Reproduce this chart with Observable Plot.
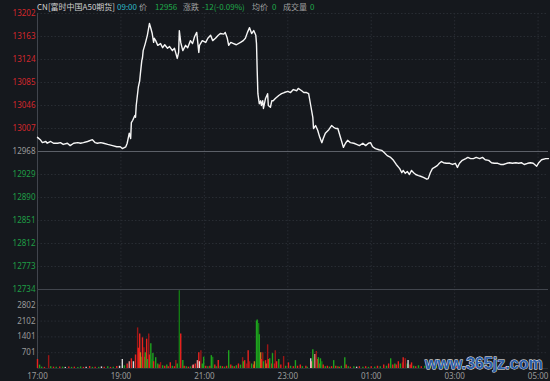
<!DOCTYPE html>
<html><head><meta charset="utf-8">
<script src="https://cdn.jsdelivr.net/npm/d3@7"></script>
<script src="https://cdn.jsdelivr.net/npm/@observablehq/plot@0.6"></script>
<style>
html,body{margin:0;padding:0;background:#15181d;}
#wrap{position:relative;width:550px;height:381px;overflow:hidden;background:#15181d;font-family:"Noto Sans CJK SC","Noto Sans",sans-serif;}
#wrap svg{position:absolute;left:0;overflow:visible;}
.hd{position:absolute;top:2px;font-size:8px;line-height:10px;white-space:nowrap;}
#wm{position:absolute;left:425px;top:355px;font:bold 16px "Liberation Sans",Arial,sans-serif;color:#2d5fa8;-webkit-text-stroke:0.8px #ffffff;paint-order:stroke fill;letter-spacing:0px;white-space:nowrap;}
</style></head><body><div id="wrap"></div>
<script>
// ---- header ----
const headerItems = [
  ["CN[富时中国A50期货]", 37, "#d0d0d0"],
  ["09:00", 117, "#2fb8c8"],
  ["价", 139, "#a0a0a0"],
  ["12956", 155, "#1fa84a"],
  ["涨跌", 183, "#a0a0a0"],
  ["-12(-0.09%)", 202, "#1fa84a"],
  ["均价", 252, "#a0a0a0"],
  ["0", 272, "#1fa84a"],
  ["成交量", 283, "#a0a0a0"],
  ["0", 310, "#1fa84a"]
];

// ---- axes ----
const prevClose = 12968;
const priceTicks = [13202,13163,13124,13085,13046,13007,12968,12929,12890,12851,12812,12773,12734];
const volTicks = [701,1401,2102,2802];
const volMax = 3503;
const timeLabels = ["17:00","19:00","21:00","23:00","01:00","03:00","05:00"];
const sessionMinutes = 735; // 17:00 -> 05:15

// ---- price line (minutes after 17:00, price) ----
const priceMin = [0,4,7,12,14,19,23,29,33,37,43,47,52,58,62,66,72,79,83,86,91,95,101,108,114,119,122,127,129,132,134,135,137,140,141,142,145,147,148,150,151,152,155,158,161,163,165,167,168,170,173,177,180,183,187,190,194,197,201,203,204,206,209,213,216,220,223,226,229,232,233,237,242,245,249,252,256,260,263,268,270,273,275,278,282,286,292,296,299,302,305,308,311,314,315,316,317,319,321,322,324,325,328,331,332,335,337,339,342,347,351,355,360,364,368,373,375,380,383,387,390,393,396,397,400,403,406,409,411,414,419,423,426,429,432,434,437,440,443,446,450,455,459,463,468,472,476,479,482,486,491,495,499,503,508,512,516,521,524,526,529,532,535,538,541,544,548,551,555,560,562,565,568,571,575,578,581,584,588,593,597,601,604,607,611,616,619,623,627,631,636,640,644,649,653,657,662,666,670,675,679,683,688,692,696,700,705,709,713,718,721,725,731,735];
const priceVal = [12992,12988,12983,12985,12982,12985,12982,12982,12983,12980,12982,12978,12982,12983,12982,12983,12985,12988,12983,12982,12983,12982,12980,12978,12976,12976,12973,12976,12982,12999,12990,13017,13021,13029,13026,13046,13077,13088,13100,13122,13127,13139,13151,13165,13185,13177,13168,13153,13160,13156,13148,13151,13144,13149,13143,13146,13139,13143,13126,13136,13173,13153,13139,13148,13144,13156,13151,13163,13170,13136,13148,13156,13153,13160,13165,13156,13160,13165,13168,13167,13170,13160,13148,13153,13151,13149,13153,13156,13160,13170,13178,13168,13173,13165,13151,13105,13066,13049,13054,13046,13054,13041,13058,13066,13046,13043,13054,13054,13058,13063,13066,13068,13070,13068,13073,13071,13075,13071,13068,13068,13066,13046,13026,13007,13012,13004,12992,12983,12990,12999,13005,13012,13009,13007,13007,12999,12987,12975,12982,12987,12983,12982,12980,12978,12982,12978,12982,12983,12976,12973,12971,12970,12966,12961,12958,12953,12946,12939,12932,12936,12931,12934,12929,12936,12932,12929,12927,12926,12924,12921,12922,12932,12939,12941,12944,12948,12951,12949,12948,12948,12946,12948,12941,12948,12953,12956,12958,12956,12956,12958,12956,12958,12954,12953,12949,12948,12948,12946,12946,12948,12949,12948,12949,12948,12949,12946,12948,12949,12948,12943,12949,12954,12956,12956];

// ---- volume bars (minutes after 17:00, volume, colour kind) ----
const volMin = [0,3,6,10,16,19,23,27,32,36,40,45,49,53,58,62,66,70,75,79,83,88,92,96,101,105,109,114,118,122,125,129,132,135,138,141,144,145,147,148,150,151,153,154,155,157,158,160,161,163,164,166,167,170,173,175,177,180,183,186,188,191,194,197,199,201,204,206,209,211,214,217,220,223,224,227,230,232,233,235,237,239,242,245,248,250,252,255,257,260,263,266,269,272,275,278,280,283,286,289,292,295,296,298,301,303,305,308,311,312,315,316,318,319,321,322,324,325,328,329,331,332,334,337,338,341,342,344,347,350,354,357,361,364,368,371,374,378,381,386,388,393,394,396,397,399,401,403,404,406,407,409,411,414,417,420,423,426,429,432,434,437,442,444,447,450,455,459,463,468,472,476,480,485,489,493,498,502,505,508,511,514,516,519,522,525,526,529,532,533,536,538,541,544,548,552,557,561,565,570,574,580,585,591,597,603,608,616,623,630,637,644,652,659,666,673,680,688,695,702,709,716,724,731];
const volVal = [400,150,60,50,570,80,60,50,70,60,50,70,50,60,40,70,50,60,90,50,60,50,70,60,80,50,60,90,100,400,120,200,300,430,300,600,1800,900,1530,700,500,1360,920,500,700,1300,400,1530,600,1100,400,660,300,480,200,150,260,120,100,150,80,260,100,80,350,200,3450,1530,350,100,80,60,70,120,150,200,350,700,300,790,200,500,100,80,100,570,500,150,80,350,100,80,60,100,790,150,100,80,120,200,150,480,300,350,200,790,300,200,150,300,2100,2150,2000,1500,700,400,700,300,350,200,1050,400,430,200,660,200,790,300,400,150,530,100,250,100,80,350,100,150,80,100,60,430,300,830,500,620,750,400,480,200,430,300,150,80,100,60,80,350,100,80,60,100,480,150,80,60,80,60,80,60,80,50,80,60,100,80,150,100,200,430,150,200,150,300,200,250,480,430,200,350,150,250,100,80,120,80,100,60,80,60,80,60,50,80,60,50,80,60,50,60,50,60,50,60,50,60,50,60,50,60,50,60];
const volKind = ["r","g","g","r","dr","g","r","g","r","g","w","r","g","r","g","g","r","w","r","g","r","g","w","r","g","r","g","r","w","w","g","r","p","r","w","r","dr","r","r","o","g","r","dr","r","g","r","g","dr","r","g","dg","g","r","g","g","r","dr","g","r","g","r","r","g","r","dr","g","dg","r","g","r","g","r","g","r","p","r","p","r","w","dr","g","g","r","g","r","g","dg","r","g","r","g","r","g","r","g","r","g","r","g","r","g","dr","g","r","dr","r","dr","g","r","o","g","g","dg","g","o","r","dr","g","r","o","dr","r","g","r","g","r","dr","r","g","r","dr","g","r","g","r","g","r","r","g","r","g","w","p","g","dg","p","dr","r","g","r","g","dg","r","g","r","g","r","g","r","g","r","g","g","r","g","r","g","w","r","g","r","g","r","g","r","g","r","g","r","g","r","g","r","r","g","dr","r","dr","g","w","r","r","g","r","g","r","g","r","g","r","g","r","g","r","g","r","g","r","g","r","g","r","g","r","g","r","g","r","g","r"];
const kindDomain = ["r","dr","g","dg","w","p","o"];
const kindColors = ["#e8231f","#9c1616","#1fa31f","#137a13","#d8d8d8","#e79090","#c8781a"];

// ---- build ----
const t0 = Date.UTC(2024,0,1,17,0);
const toDate = m => new Date(t0 + m*60000);
const xDomain = [toDate(0), toDate(sessionMinutes)];
const tickDates = timeLabels.map((s,i)=>toDate(i*120));
const priceData = priceMin.map((m,i)=>({t:toDate(m), p:priceVal[i]}));
const volData = volMin.map((m,i)=>({t:toDate(m), v:volVal[i], k:volKind[i]}));

const RED="#d4272c", GREEN="#1f9e45", GREY="#9a9a9a";
const gridColor="#282c33", borderColor="#41454d";
const font='"Noto Sans","DejaVu Sans",sans-serif';

const price = Plot.plot({
  width:550, height:295, marginLeft:37, marginRight:2, marginTop:13, marginBottom:6,
  style:{background:"transparent", fontSize:"8px", fontFamily:font},
  x:{type:"utc", domain:xDomain, axis:null},
  y:{domain:[12734,13202], axis:null},
  marks:[
    Plot.gridY(priceTicks.filter(d=>d!==prevClose && d!==12734), {stroke:gridColor, strokeOpacity:1, strokeDasharray:"1.5,2"}),
    Plot.gridX(tickDates.slice(1), {stroke:gridColor, strokeOpacity:1, strokeDasharray:"1.5,2"}),
    Plot.ruleY([prevClose], {stroke:"#5c6068", strokeWidth:1}),
    Plot.ruleY([12734], {stroke:borderColor}),
    Plot.ruleX([xDomain[0]], {stroke:borderColor}),
    Plot.line(priceData, {x:"t", y:"p", stroke:"#f6f6f6", strokeWidth:1.4}),
    Plot.text(priceTicks.filter(d=>d>prevClose), {x:()=>xDomain[0], y:d=>d, text:d=>String(d), textAnchor:"end", dx:-2, fill:RED}),
    Plot.text(priceTicks.filter(d=>d===prevClose), {x:()=>xDomain[0], y:d=>d, text:d=>String(d), textAnchor:"end", dx:-2, fill:GREY}),
    Plot.text(priceTicks.filter(d=>d<prevClose), {x:()=>xDomain[0], y:d=>d, text:d=>String(d), textAnchor:"end", dx:-2, fill:GREEN})
  ]
});

const volume = Plot.plot({
  width:550, height:92, marginLeft:37, marginRight:2, marginTop:0, marginBottom:13,
  style:{background:"transparent", fontSize:"8px", fontFamily:font},
  x:{type:"utc", domain:xDomain, axis:null},
  y:{domain:[0,volMax], axis:null},
  color:{domain:kindDomain, range:kindColors},
  marks:[
    Plot.gridY(volTicks, {stroke:gridColor, strokeOpacity:1, strokeDasharray:"1.5,2"}),
    Plot.gridX(tickDates.slice(1), {stroke:gridColor, strokeOpacity:1, strokeDasharray:"1.5,2"}),
    Plot.ruleX([xDomain[0]], {stroke:borderColor}),
    Plot.ruleX(volData, {x:"t", y1:0, y2:"v", stroke:"k", strokeWidth:1.4}),
    Plot.ruleY([0], {stroke:"#2a2d34"}),
    Plot.text(volTicks, {x:()=>xDomain[0], y:d=>d, text:d=>String(d), textAnchor:"end", dx:-2, fill:GREY}),
    Plot.text(tickDates, {x:d=>d, y:()=>0, text:(d,i)=>timeLabels[i], dy:5, lineAnchor:"top", fill:GREY})
  ]
});

const wrap = document.getElementById("wrap");
price.style.top="0px";
volume.style.top="289px";
wrap.appendChild(volume);
wrap.appendChild(price);
for (const [txt,x,c] of headerItems){
  const s=document.createElement("div");
  s.className="hd"; s.textContent=txt; s.style.left=x+"px"; s.style.color=c;
  wrap.appendChild(s);
}
const wm=document.createElement("div");
wm.id="wm"; wm.textContent="www.365jz.com";
wrap.appendChild(wm);
</script>
</body></html>
